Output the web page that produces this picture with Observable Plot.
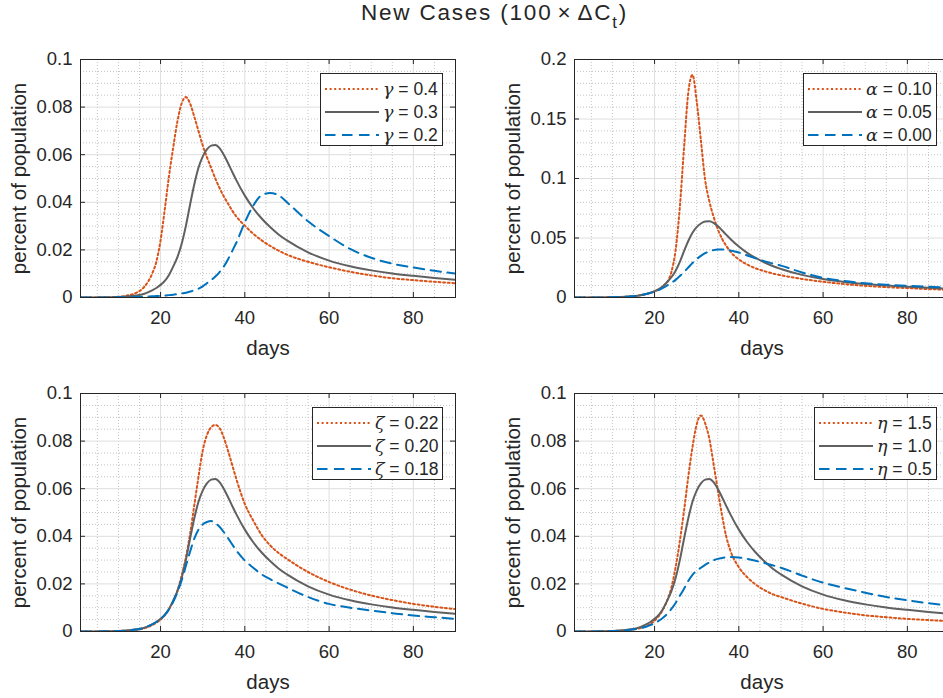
<!DOCTYPE html>
<html>
<head>
<meta charset="utf-8">
<script src="https://cdn.jsdelivr.net/npm/d3@7"></script>
<script src="https://cdn.jsdelivr.net/npm/@observablehq/plot@0.6"></script>
<style>
html, body { margin: 0; padding: 0; background: #fff; }
body { width: 943px; height: 698px; overflow: hidden; position: relative;
  font-family: "Liberation Sans", Arial, Helvetica, sans-serif; color: #262626; }
.panel { position: absolute; width: 470px; }
.panel svg { overflow: visible; }
.panel g[aria-label="x-axis label"], .panel g[aria-label="y-axis label"] { font-size: 20.5px; }
.title { position: absolute; left: 0; top: 0; width: 943px; box-sizing: border-box; padding-left: 46px;
  text-align: center; font-size: 22.5px; line-height: 26px; letter-spacing: 1.8px; white-space: nowrap; }
.title .op { padding: 0 5px; }
.title .sub { position: relative; top: 0.45em; font-size: 0.75em; }
.legend { position: absolute; height: 73px; background: #fff; border: 1px solid #262626; box-sizing: border-box; }
.row { position: absolute; left: 4px; height: 20px; display: flex; align-items: center;
  font-size: 17.5px; white-space: nowrap; }
.row svg { display: block; margin-right: 4px; }
.greek { font-family: "DejaVu Serif", "Liberation Serif", serif; font-style: italic; }
</style>
</head>
<body>
<div class="title">New Cases (100<span class="op">×</span>ΔC<span class="sub">t</span>)</div>
<script>
// ---------- data ----------
const days = [1, 5, 10, 12, 14, 16, 18, 19, 20, 21, 22, 23, 24, 25, 26, 27, 28, 29, 30, 31,
  32, 33, 34, 35, 36, 37, 38, 40, 42, 44, 46, 48, 50, 55, 60, 65, 70, 75, 80, 85, 90];

// baseline run (gamma = 0.3, alpha = 0.05, zeta = 0.20, eta = 1.0)
const baseline = [0, 0.00003, 0.0002, 0.0004, 0.0008, 0.0015, 0.0030,
  0.0040, 0.0053, 0.0070, 0.0095, 0.0130, 0.0170, 0.0225, 0.0300, 0.0390, 0.0475, 0.0545, 0.0592, 0.0622,
  0.0638, 0.0641, 0.0628, 0.0600, 0.0565, 0.0528, 0.0492,
  0.0428, 0.0375, 0.0332, 0.0296, 0.0265, 0.0240,
  0.0190, 0.0155, 0.0131, 0.0114, 0.0101, 0.0091, 0.0082, 0.0074];

const gamma04 = [0, 0.00005, 0.0003, 0.0008, 0.0018, 0.0042, 0.0100,
  0.0150, 0.0240, 0.0370, 0.0510, 0.0630, 0.0740, 0.0815, 0.0842, 0.0815, 0.0760, 0.0700, 0.0640, 0.0590,
  0.0545, 0.0500, 0.0460, 0.0425, 0.0395, 0.0365, 0.0340,
  0.0302, 0.0268, 0.0240, 0.0217, 0.0197, 0.0180,
  0.0150, 0.0127, 0.0108, 0.0093, 0.0081, 0.0073, 0.0066, 0.0060];
const gamma02 = [0, 0, 0.0001, 0.0001, 0.0002, 0.0003, 0.0005,
  0.0006, 0.0007, 0.0008, 0.0010, 0.0012, 0.0014, 0.0017, 0.0020, 0.0025, 0.0030, 0.0037, 0.0047, 0.0060,
  0.0073, 0.0088, 0.0107, 0.0130, 0.0160, 0.0195, 0.0231,
  0.0316, 0.0386, 0.0430, 0.0439, 0.0430, 0.0400,
  0.0320, 0.0258, 0.0204, 0.0167, 0.0142, 0.0126, 0.0112, 0.0101];

const alpha010 = [0, 0.00003, 0.0002, 0.0004, 0.0008, 0.0015, 0.0028,
  0.0038, 0.0050, 0.0068, 0.0095, 0.0130, 0.0215, 0.0400, 0.0760, 0.1260, 0.1720, 0.1870, 0.1650, 0.1320,
  0.0990, 0.0810, 0.0680, 0.0575, 0.0495, 0.0435, 0.0385,
  0.0320, 0.0277, 0.0245, 0.0222, 0.0202, 0.0187,
  0.0156, 0.0132, 0.0113, 0.0098, 0.0087, 0.0079, 0.0071, 0.0064];
const alpha000 = [0, 0.00003, 0.0002, 0.0004, 0.0008, 0.0015, 0.0030,
  0.0038, 0.0048, 0.0062, 0.0080, 0.0101, 0.0124, 0.0148, 0.0180, 0.0215, 0.0252, 0.0290, 0.0322, 0.0350,
  0.0372, 0.0388, 0.0398, 0.0403, 0.0404, 0.0401, 0.0395,
  0.0378, 0.0353, 0.0329, 0.0306, 0.0286, 0.0268,
  0.0210, 0.0165, 0.0138, 0.0120, 0.0108, 0.0098, 0.0090, 0.0083];

const zeta022 = [0, 0.00003, 0.0002, 0.0004, 0.0007, 0.0013, 0.0027,
  0.0037, 0.0050, 0.0068, 0.0093, 0.0128, 0.0172, 0.0235, 0.0310, 0.0410, 0.0530, 0.0650, 0.0760, 0.0825,
  0.0858, 0.0868, 0.0855, 0.0815, 0.0760, 0.0700, 0.0640,
  0.0536, 0.0466, 0.0405, 0.0362, 0.0330, 0.0305,
  0.0250, 0.0208, 0.0176, 0.0151, 0.0132, 0.0116, 0.0104, 0.0094];
const zeta018 = [0, 0.00003, 0.0002, 0.0004, 0.0008, 0.0015, 0.0030,
  0.0040, 0.0053, 0.0070, 0.0093, 0.0125, 0.0165, 0.0215, 0.0275, 0.0335, 0.0390, 0.0428, 0.0450, 0.0460,
  0.0464, 0.0455, 0.0440, 0.0418, 0.0393, 0.0366, 0.0340,
  0.0298, 0.0268, 0.0240, 0.0220, 0.0202, 0.0185,
  0.0145, 0.0116, 0.0100, 0.0088, 0.0077, 0.0067, 0.0060, 0.0053];

const eta15 = [0, 0.00003, 0.0002, 0.0004, 0.0007, 0.0012, 0.0022,
  0.0032, 0.0045, 0.0065, 0.0092, 0.0130, 0.0185, 0.0270, 0.0380, 0.0508, 0.0650, 0.0775, 0.0870, 0.0908,
  0.0875, 0.0810, 0.0705, 0.0595, 0.0490, 0.0400, 0.0340,
  0.0270, 0.0228, 0.0197, 0.0175, 0.0157, 0.0145,
  0.0117, 0.0095, 0.0080, 0.0068, 0.0060, 0.0053, 0.0048, 0.0043];
const eta05 = [0, 0.00003, 0.0002, 0.0004, 0.0007, 0.0012, 0.0020,
  0.0027, 0.0034, 0.0045, 0.0058, 0.0074, 0.0095, 0.0120, 0.0150, 0.0180, 0.0212, 0.0238, 0.0255, 0.0268,
  0.0280, 0.0290, 0.0299, 0.0305, 0.0309, 0.0312, 0.0313,
  0.0311, 0.0305, 0.0297, 0.0288, 0.0278, 0.0268,
  0.0235, 0.0205, 0.0183, 0.0163, 0.0145, 0.0131, 0.0119, 0.0109];

// ---------- ticks ----------
const xTicks = [20, 40, 60, 80];
const xTickLabels = ["20", "40", "60", "80"];
const yTicks01 = [0, 0.02, 0.04, 0.06, 0.08, 0.1];
const yTickLabels01 = ["0", "0.02", "0.04", "0.06", "0.08", "0.1"];
const yTicks02 = [0, 0.05, 0.1, 0.15, 0.2];
const yTickLabels02 = ["0", "0.05", "0.1", "0.15", "0.2"];
const xMinor = [5, 10, 15, 25, 30, 35, 45, 50, 55, 65, 70, 75, 85];
const yMinor01 = [0.005, 0.01, 0.015, 0.025, 0.03, 0.035, 0.045, 0.05, 0.055, 0.065, 0.07, 0.075, 0.085, 0.09, 0.095];
const yMinor02 = [0.01, 0.02, 0.03, 0.04, 0.06, 0.07, 0.08, 0.09, 0.11, 0.12, 0.13, 0.14, 0.16, 0.17, 0.18, 0.19];

// series labels
const paramSymbols = ["γ", "α", "ζ", "η"];
const paramValues = [["0.4", "0.3", "0.2"], ["0.10", "0.05", "0.00"], ["0.22", "0.20", "0.18"], ["1.5", "1.0", "0.5"]];

// ---------- styling ----------
const ORANGE = "#D95319", GRAY = "#606060", BLUE = "#0072BD";
const styles = [
  {color: ORANGE, dash: "2,2.6"},
  {color: GRAY, dash: null},
  {color: BLUE, dash: "10.5,6.5"}
];
const AX = "#262626";

const panels = [
  {left: 0, top: 40, height: 330, yMax: 0.1, yTicks: yTicks01, yLabels: yTickLabels01, yMinor: yMinor01,
   values: [gamma04, baseline, gamma02], legend: {left: 320, top: 73, width: 123}},
  {left: 494, top: 40, height: 330, yMax: 0.2, yTicks: yTicks02, yLabels: yTickLabels02, yMinor: yMinor02,
   values: [alpha010, baseline, alpha000], legend: {left: 803, top: 73, width: 134}},
  {left: 0, top: 374, height: 324, yMax: 0.1, yTicks: yTicks01, yLabels: yTickLabels01, yMinor: yMinor01,
   values: [zeta022, baseline, zeta018], legend: {left: 312, top: 407, width: 131}},
  {left: 494, top: 374, height: 324, yMax: 0.1, yTicks: yTicks01, yLabels: yTickLabels01, yMinor: yMinor01,
   values: [eta15, baseline, eta05], legend: {left: 814, top: 407, width: 123}}
];

const PW = 375, PH = 238, ML = 80, MR = 15, MT = 19;

panels.forEach((p, k) => {
  const series = p.values.map((vals, j) => ({
    rows: days.map((d, i) => ({day: d, v: vals[i]})),
    ...styles[j]
  }));
  const chart = Plot.plot({
    width: ML + PW + MR,
    height: p.height,
    marginLeft: ML, marginRight: MR, marginTop: MT, marginBottom: p.height - MT - PH,
    style: {fontFamily: "'Liberation Sans', Arial, Helvetica, sans-serif", fontSize: "18.5px", color: AX, background: "transparent"},
    x: {domain: [1, 90]},
    y: {domain: [0, p.yMax]},
    marks: [
      Plot.ruleX(xMinor, {stroke: "#c4c4c4", strokeDasharray: "1,2"}),
      Plot.ruleY(p.yMinor, {stroke: "#c4c4c4", strokeDasharray: "1,2"}),
      Plot.ruleX(xTicks, {stroke: "#dedede"}),
      Plot.ruleY(p.yTicks, {stroke: "#dedede"}),
      ...series.map(s => Plot.line(s.rows, {
        x: "day", y: "v", stroke: s.color, strokeWidth: 2,
        strokeDasharray: s.dash, curve: "monotone-x", clip: true
      })),
      Plot.frame({stroke: AX, strokeWidth: 1}),
      Plot.ruleX(xTicks, {stroke: AX, insetTop: PH - 5}),
      Plot.ruleX(xTicks, {stroke: AX, insetBottom: PH - 5}),
      Plot.ruleY(p.yTicks, {stroke: AX, insetRight: PW - 5}),
      Plot.ruleY(p.yTicks, {stroke: AX, insetLeft: PW - 5}),
      Plot.axisX(xTicks, {tickSize: 0, tickPadding: 13, tickFormat: d => xTickLabels[xTicks.indexOf(d)],
        label: "days", labelAnchor: "center", labelOffset: 57, labelArrow: "none"}),
      Plot.axisY(p.yTicks, {tickSize: 0, tickPadding: 8, tickFormat: d => p.yLabels[p.yTicks.indexOf(d)],
        label: "percent of population", labelAnchor: "center", labelOffset: 69, labelArrow: "none"})
    ]
  });
  const div = document.createElement("div");
  div.className = "panel";
  div.style.left = p.left + "px";
  div.style.top = p.top + "px";
  div.appendChild(chart);
  document.body.appendChild(div);

  // legend (inside axes, top-right)
  const lg = document.createElement("div");
  lg.className = "legend";
  lg.style.left = p.legend.left + "px";
  lg.style.top = p.legend.top + "px";
  lg.style.width = p.legend.width + "px";
  series.forEach((s, j) => {
    const row = document.createElement("div");
    row.className = "row";
    row.style.top = (5 + j * 23) + "px";
    const svg = d3.create("svg").attr("width", 54).attr("height", 10);
    svg.append("line").attr("x1", 0).attr("x2", 54).attr("y1", 5).attr("y2", 5)
      .attr("stroke", s.color).attr("stroke-width", 2)
      .attr("stroke-dasharray", s.dash);
    row.appendChild(svg.node());
    const txt = document.createElement("span");
    txt.innerHTML = `<span class="greek">${paramSymbols[k]}</span> = ${paramValues[k][j]}`;
    row.appendChild(txt);
    lg.appendChild(row);
  });
  document.body.appendChild(lg);
});
</script>
</body>
</html>
